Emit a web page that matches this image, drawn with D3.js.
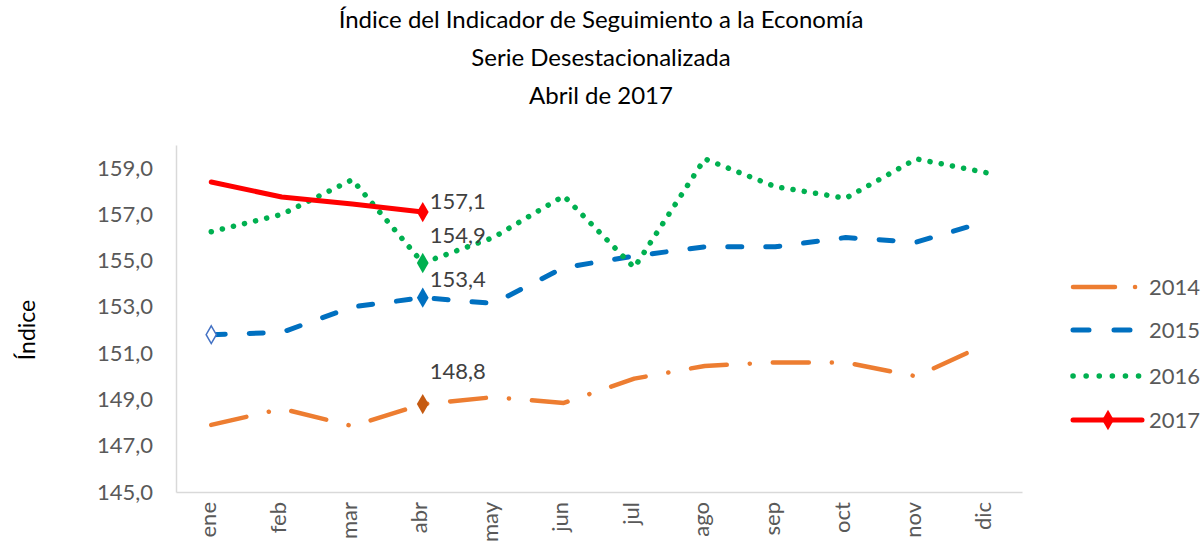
<!DOCTYPE html>
<html>
<head>
<meta charset="utf-8">
<script src="https://cdn.jsdelivr.net/npm/d3@7"></script>
<style>
  body { margin: 0; background: #fff; }
  text { font-family: Lato, "Open Sans", sans-serif; }
</style>
</head>
<body>
<svg id="chart" width="1203" height="546"></svg>
<script>
// data
var months = ["ene", "feb", "mar", "abr", "may", "jun", "jul", "ago", "sep", "oct", "nov", "dic"]
var s2014 = [147.9, 148.6, 147.85, 148.8, 149.1, 148.85, 149.9, 150.45, 150.6, 150.6, 150.0, 151.4]
var s2015 = [151.8, 151.9, 153.0, 153.4, 153.15, 154.7, 155.2, 155.6, 155.6, 156.0, 155.8, 156.7]
var s2016 = [156.25, 157.0, 158.5, 154.9, 156.0, 157.8, 154.7, 159.4, 158.2, 157.7, 159.4, 158.8]
var s2017 = [158.4, 157.75, 157.45, 157.1]
var yTicks = [145, 147, 149, 151, 153, 155, 157, 159]

var series = [
  { name: "2014", values: s2014, color: "#ED7D31", dash: "36,23,0.1,23", width: 4.5, mark: "#C55A11" },
  { name: "2015", values: s2015, color: "#0070C0", dash: "14,24", width: 5, mark: "#0070C0" },
  { name: "2016", values: s2016, color: "#00B050", dash: "0.1,11.3", width: 5.5, mark: "#00B050" },
  { name: "2017", values: s2017, color: "#FF0000", dash: null, width: 5, mark: "#FF0000" }
]

var svg = d3.select("#chart"),
    margin = { top: 145, left: 176, right: 181, bottom: 54 },
    width = +svg.attr("width") - margin.left - margin.right,
    height = +svg.attr("height") - margin.top - margin.bottom,
    g = svg.append("g").attr("transform", "translate(" + margin.left + "," + margin.top + ")")

var x = d3.scaleBand().domain(months).range([0, width])
var y = d3.scaleLinear().domain([145, 160]).range([height, 0])
var cx = function (i) { return x(months[i]) + x.bandwidth() / 2 }
var fmt = function (d) { return d3.format(".1f")(d).replace(".", ",") }

// title
var titles = ["Índice del Indicador de Seguimiento a la Economía", "Serie Desestacionalizada", "Abril de 2017"]
svg.selectAll(".title")
  .data(titles)
  .enter().append("text")
  .attr("x", 601)
  .attr("y", function (d, i) { return 28 + i * 38 })
  .attr("text-anchor", "middle")
  .attr("font-size", 24)
  .attr("fill", "#000")
  .text(function (d) { return d })

// axes
var yAxis = g.append("g").call(d3.axisLeft(y).tickValues(yTicks).tickSize(0).tickPadding(23).tickFormat(fmt))
yAxis.select(".domain").attr("stroke", "#D9D9D9").attr("stroke-width", 1.5)
yAxis.selectAll("text").attr("font-size", 22).attr("fill", "#595959")

var xAxis = g.append("g").attr("transform", "translate(0," + height + ")")
  .call(d3.axisBottom(x).tickSize(0))
xAxis.select(".domain").attr("stroke", "#D9D9D9").attr("stroke-width", 1.5)
xAxis.selectAll("text")
  .attr("font-size", 22).attr("fill", "#595959")
  .attr("transform", "rotate(-90)")
  .attr("text-anchor", "end")
  .attr("x", -10).attr("y", -3).attr("dy", "0.35em")

svg.append("text")
  .attr("transform", "translate(35,330) rotate(-90)")
  .attr("text-anchor", "middle")
  .attr("font-size", 23)
  .attr("fill", "#000")
  .text("Índice")

// lines
var line = d3.line()
  .x(function (d, i) { return cx(i) })
  .y(function (d) { return y(d) })

g.selectAll(".series")
  .data(series)
  .enter().append("path")
  .attr("d", function (d) { return line(d.values) })
  .attr("fill", "none")
  .attr("stroke", function (d) { return d.color })
  .attr("stroke-width", function (d) { return d.width })
  .attr("stroke-dasharray", function (d) { return d.dash })
  .attr("stroke-linecap", "round")
  .attr("stroke-linejoin", "round")

// markers on abr
var diamond = d3.symbol().type(d3.symbolDiamond).size(120)
g.selectAll(".mark")
  .data(series)
  .enter().append("path")
  .attr("d", diamond)
  .attr("transform", function (d) { return "translate(" + cx(3) + "," + y(d.values[3]) + ")" })
  .attr("fill", function (d) { return d.mark })

// hollow marker on 2015 ene
g.append("path")
  .attr("d", d3.symbol().type(d3.symbolDiamond).size(90))
  .attr("transform", "translate(" + cx(0) + "," + y(s2015[0]) + ")")
  .attr("fill", "#fff").attr("stroke", "#4472C4").attr("stroke-width", 1.5)

// data labels
var labelOff = { "2014": -25, "2015": -11, "2016": -20, "2017": -3 }
g.selectAll(".lbl")
  .data(series)
  .enter().append("text")
  .attr("x", cx(3) + 7)
  .attr("y", function (d) { return y(d.values[3]) + labelOff[d.name] })
  .attr("font-size", 22)
  .attr("fill", "#404040")
  .text(function (d) { return fmt(d.values[3]) })

// legend
var legend = svg.selectAll(".legend")
  .data(series)
  .enter().append("g")
  .attr("transform", function (d, i) { return "translate(1073," + [287, 330, 376, 420][i] + ")" })

legend.append("line")
  .attr("x1", 0).attr("x2", 69)
  .attr("stroke", function (d) { return d.color })
  .attr("stroke-width", function (d) { return d.width })
  .attr("stroke-linecap", "round")
  .attr("stroke-dasharray", function (d) {
    return { "2014": "42,20,0.1,20", "2015": "16,25", "2016": "0.1,13", "2017": null }[d.name]
  })

legend.filter(function (d) { return d.name == "2017" }).append("path")
  .attr("d", diamond)
  .attr("transform", "translate(35,0)")
  .attr("fill", "#FF0000")

legend.append("text")
  .attr("x", 76).attr("dy", "0.35em")
  .attr("font-size", 22)
  .attr("fill", "#595959")
  .text(function (d) { return d.name })
</script>
</body>
</html>
